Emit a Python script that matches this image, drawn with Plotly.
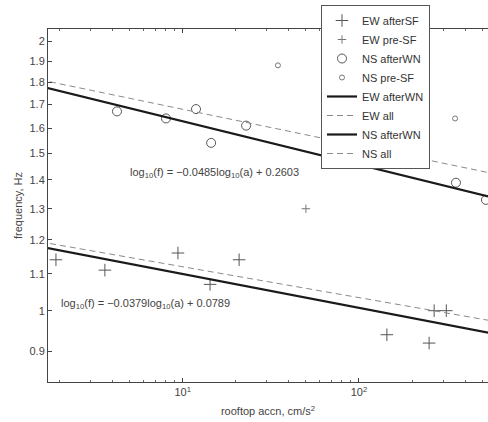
import numpy as np
import plotly.graph_objects as go

# ---- data ----
ew_after_sf_a = [1.91, 3.62, 9.4, 14.3, 20.9, 144, 250, 267, 313]
ew_after_sf_f = [1.14, 1.11, 1.16, 1.07, 1.14, 0.94, 0.92, 1.00, 1.00]

ew_pre_sf_a = [50]
ew_pre_sf_f = [1.30]

ns_after_wn_a = [4.24, 8.04, 11.9, 14.5, 22.9, 355, 525]
ns_after_wn_f = [1.67, 1.64, 1.68, 1.54, 1.61, 1.39, 1.33]

ns_pre_sf_a = [34.7, 351]
ns_pre_sf_f = [1.88, 1.64]

fit_names = ["EW afterWN", "EW all", "NS afterWN", "NS all"]
fit_slopes = [-0.0379, -0.0345, -0.0485, -0.0408]
fit_intercepts = [0.0789, 0.0836, 0.2603, 0.2659]

x_range_log = [0.236, 2.732]
y_range_log = [-0.0797, 0.3148]

FONT = "Liberation Sans, Arial, Helvetica, sans-serif"
MK = "#555555"

fig = go.Figure()

fig.add_trace(go.Scatter(x=ew_after_sf_a, y=ew_after_sf_f, mode="markers", name="EW afterSF",
                         marker=dict(symbol="cross-thin-open", size=9, line=dict(color=MK, width=1), color=MK)))
fig.add_trace(go.Scatter(x=ew_pre_sf_a, y=ew_pre_sf_f, mode="markers", name="EW pre-SF",
                         marker=dict(symbol="cross-thin-open", size=6, line=dict(color="#777", width=1), color="#777")))
fig.add_trace(go.Scatter(x=ns_after_wn_a, y=ns_after_wn_f, mode="markers", name="NS afterWN",
                         marker=dict(symbol="circle-open", size=9, line=dict(color=MK, width=1), color=MK)))
fig.add_trace(go.Scatter(x=ns_pre_sf_a, y=ns_pre_sf_f, mode="markers", name="NS pre-SF",
                         marker=dict(symbol="circle-open", size=5, line=dict(color="#777", width=1), color="#777")))

xs = np.logspace(x_range_log[0] - 0.1, x_range_log[1] + 0.1, 50)
styles = [dict(color="#1a1a1a", width=2.2),
          dict(color="#8a8a8a", width=1, dash="6px,4px"),
          dict(color="#1a1a1a", width=2.2),
          dict(color="#8a8a8a", width=1, dash="6px,4px")]
for name, m, c, st in zip(fit_names, fit_slopes, fit_intercepts, styles):
    ys = 10 ** (m * np.log10(xs) + c)
    fig.add_trace(go.Scatter(x=xs, y=ys, mode="lines", name=name, line=st))

fig.add_annotation(x=(128 - 48) / 440, y=(382 - 173) / 353, xref="paper", yref="paper",
                   xanchor="left", yanchor="middle", showarrow=False,
                   text="log<sub>10</sub>(f) = \u22120.0485log<sub>10</sub>(a) + 0.2603",
                   font=dict(family=FONT, size=11, color="#444"))
fig.add_annotation(x=(59 - 48) / 440, y=(382 - 304) / 353, xref="paper", yref="paper",
                   xanchor="left", yanchor="middle", showarrow=False,
                   text="log<sub>10</sub>(f) = \u22120.0379log<sub>10</sub>(a) + 0.0789",
                   font=dict(family=FONT, size=11, color="#444"))

fig.update_layout(
    width=488, height=422,
    margin=dict(l=48, r=0, t=29, b=40),
    paper_bgcolor="white", plot_bgcolor="white",
    font=dict(family=FONT, size=11, color="#444"),
    showlegend=True,
    legend=dict(x=(321 - 48) / 440, y=(382 - 5) / 353, xanchor="left", yanchor="top",
                bgcolor="white", bordercolor="#555", borderwidth=1,
                font=dict(family=FONT, size=11, color="#333"),
                tracegroupgap=0, itemsizing="trace"),
    xaxis=dict(type="log", range=x_range_log, showgrid=False, zeroline=False,
               showline=True, linecolor="#444", linewidth=1, mirror="ticks",
               ticks="inside", ticklen=4, tickcolor="#444",
               tickvals=[10, 100], ticktext=["10<sup>1</sup>", "10<sup>2</sup>"],
               minor=dict(ticks="inside", ticklen=2, tickcolor="#666", dtick="D1"),
               title=dict(text="rooftop accn, cm/s<sup>2</sup>", standoff=10,
                          font=dict(size=11, color="#444")),
               tickfont=dict(size=11, color="#444")),
    yaxis=dict(type="log", range=y_range_log, showgrid=False, zeroline=False,
               showline=True, linecolor="#444", linewidth=1,
               ticks="inside", ticklen=4, tickcolor="#444",
               tickvals=[0.9, 1, 1.1, 1.2, 1.3, 1.4, 1.5, 1.6, 1.7, 1.8, 1.9, 2],
               ticktext=["0.9", "1", "1.1", "1.2", "1.3", "1.4", "1.5", "1.6", "1.7", "1.8", "1.9", "2"],
               title=dict(text="frequency, Hz", standoff=4, font=dict(size=11, color="#444")),
               tickfont=dict(size=11, color="#444")),
)

fig.write_html("out.html")
